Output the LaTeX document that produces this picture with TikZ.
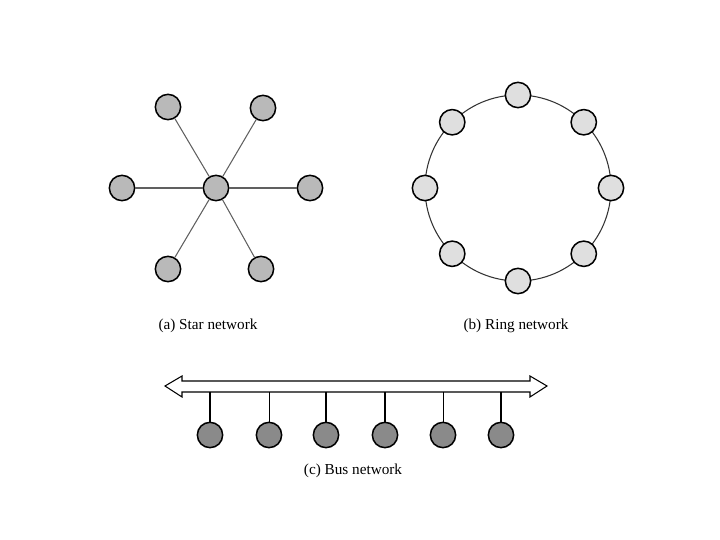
\documentclass[tikz,border=0pt]{standalone}
\usepackage{fontspec}
\setmainfont{Liberation Serif}
\usetikzlibrary{positioning, calc}

\tikzset{
	host/.style={circle, draw=black, line width=1.3pt, minimum size=0.76cm, inner sep=0pt},
	starhost/.style={host, fill=gray!55},
	ringhost/.style={host, fill=gray!25},
	bushost/.style={host, fill=gray!92},
	caption/.style={font=\fontsize{13}{15}\selectfont}
}

\begin{document}
\begin{tikzpicture}[x=0.03cm, y=-0.03cm]
				\useasboundingbox (0,0) rectangle (720,540);
				
				% star network
				\node [starhost] (hub) at (216,188) {};
				\foreach \name/\px/\py in {s1/168/107, s2/263/108, s3/122/188, s4/310/188, s5/168/269, s6/261/269}
				{
					\node [starhost] (\name) at (\px,\py) {};
					\draw [gray!75!black, line width=0.9pt] (hub) -- (\name);
				}
				
				% ring network
				\draw [gray!40!black, line width=0.9pt] (518,188) circle [radius=93*0.03cm];
				\foreach \i/\ang in {1/90, 2/45, 3/0, 4/-45, 5/-90, 6/-135, 7/180, 8/135}
				\node [ringhost] (r\i) at ($(518,188)+(\ang:2.79cm)$) {};
				
				% bus network
				\draw [line width=0.9pt, fill=white] (165,386) -- (182,376) -- (182,381) -- (530,381) -- (530,376) -- (547,386) -- (530,397) -- (530,392) -- (182,392) -- (182,397) -- cycle;
				\foreach \i/\px/\lw in {1/210/1.2pt, 2/269/0.5pt, 3/326/1.2pt, 4/385/1.2pt, 5/443/0.5pt, 6/501/1.2pt}
				{
					\coordinate (tap\i) at (\px,392);
					\node [bushost] (b\i) at (\px,435) {};
					\draw [line width=\lw] (tap\i) -- (b\i);
				}
				
				\node [caption] (capa) at (208,326) {(a) Star network};
				\node [caption] (capb) at (516,326) {(b) Ring network};
				\node [caption] (capc) at (353,471) {(c) Bus network};
\end{tikzpicture}
\end{document}
